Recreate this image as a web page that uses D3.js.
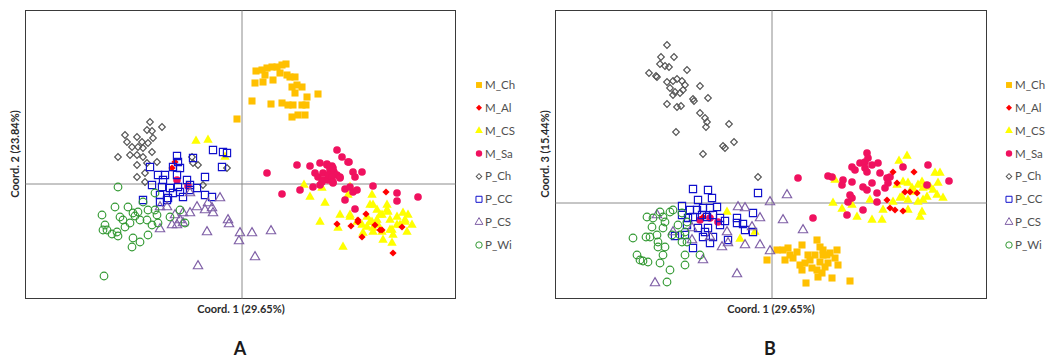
<!DOCTYPE html>
<html>
<head>
<meta charset="utf-8">
<script src="https://cdn.jsdelivr.net/npm/d3@7"></script>
<style>
  html, body { margin: 0; padding: 0; background: #fff; }
  svg { display: block; }
  text { font-family: Lato, "Open Sans", "Liberation Sans", sans-serif; }
</style>
</head>
<body>
<script>
// PCoA ordination of eight groups: Coord. 1 vs Coord. 2 (A) and Coord. 1 vs Coord. 3 (B)

const seriesNames = ["M_Ch", "M_Al", "M_CS", "M_Sa", "P_Ch", "P_CC", "P_CS", "P_Wi"];
const panelLetters = ["A", "B"];
const xAxisTitle = "Coord. 1 (29.65%)";
const yAxisTitles = ["Coord. 2 (23.84%)", "Coord. 3 (15.44%)"];

// ---------- Panel A : [Coord.1, Coord.2] ----------
const mChA = [[0.15,1.12],[0.21,1.13],[0.26,1.15],[0.31,1.16],[0.36,1.16],[0.41,1.18],[0.45,1.19],[0.24,1.08],
  [0.32,1.03],[0.39,1.10],[0.46,1.08],[0.49,1.06],[0.54,1.06],[0.14,1.00],[0.22,1.01],[0.51,0.96],[0.56,0.98],
  [0.61,0.96],[0.54,0.90],[0.66,0.86],[0.77,0.89],[0.11,0.82],[0.30,0.79],[0.41,0.80],[0.47,0.78],[0.52,0.78],
  [0.61,0.78],[0.65,0.78],[0.51,0.66],[0.57,0.68],[0.64,0.68],[-0.04,0.64]];
const mAlA = [[1.45,-0.09],[1.25,-0.31],[0.96,-0.41],[1.10,-0.43],[1.17,-0.39],[1.21,-0.54],[1.34,-0.42],
  [1.41,-0.47],[1.61,-0.44],[1.52,-0.70],[1.17,-0.37],[1.39,-0.47],[-0.66,0.21],[-0.69,0.15]];
const mCSA = [[0.63,-0.02],[0.69,-0.14],[0.81,-0.05],[0.84,-0.20],[0.79,-0.39],[0.99,-0.32],[0.97,-0.45],
  [1.02,-0.64],[1.09,-0.04],[1.07,-0.12],[1.09,-0.32],[1.16,-0.39],[1.21,-0.42],[1.26,-0.44],[1.29,-0.39],
  [1.31,-0.12],[1.32,-0.22],[1.36,-0.27],[1.39,-0.32],[1.37,-0.42],[1.41,-0.49],[1.46,-0.22],[1.47,-0.29],
  [1.49,-0.37],[1.51,-0.47],[1.52,-0.52],[1.42,-0.57],[1.51,-0.60],[1.56,-0.34],[1.59,-0.42],[1.62,-0.30],
  [1.64,-0.39],[1.66,-0.49],[1.71,-0.42],[1.32,-0.49],[1.22,-0.50],[1.26,-0.34],[1.31,-0.39],[1.36,-0.37],
  [1.41,-0.32],[1.46,-0.27],[1.56,-0.42],[1.64,-0.37],[1.67,-0.32],[1.49,-0.47],[1.32,-0.45],[1.29,-0.22],
  [1.09,-0.34],[-0.45,0.42],[-0.33,0.43],[-0.16,0.26]];
const mSaA = [[0.96,0.33],[1.01,0.26],[1.08,0.21],[0.26,0.10],[0.56,0.18],[0.69,0.17],[0.79,0.20],[0.86,0.19],
  [0.91,0.17],[0.89,0.13],[0.93,0.11],[0.96,0.08],[0.99,0.06],[0.74,0.10],[0.77,0.06],[0.82,0.03],[0.87,0.03],
  [0.92,0.00],[1.12,0.11],[1.21,0.11],[1.14,0.06],[0.72,-0.04],[0.59,-0.07],[0.41,-0.11],[1.04,-0.06],
  [1.12,-0.09],[1.16,-0.07],[1.32,-0.03],[1.04,-0.17],[1.14,-0.26],[1.56,-0.10],[1.56,-0.18],[1.77,-0.14],
  [1.09,-0.04],[0.79,-0.02],[0.86,0.18],[0.89,0.16],[0.92,0.15],[0.82,0.10],[0.87,0.08],[0.91,0.06],
  [0.99,0.05],[0.81,0.01],[0.92,0.01],[1.07,0.21],[-0.64,0.03],[-0.53,-0.03]];
const pChA = [[-0.91,0.61],[-0.79,0.56],[-0.94,0.53],[-0.89,0.52],[-1.16,0.48],[-1.04,0.46],[-1.14,0.41],
  [-0.99,0.41],[-0.93,0.40],[-0.88,0.45],[-1.09,0.36],[-1.03,0.36],[-0.98,0.35],[-0.89,0.31],[-1.23,0.26],
  [-1.11,0.28],[-1.04,0.28],[-0.98,0.26],[-1.04,0.18],[-0.94,0.20],[-0.84,0.21],[-0.49,0.26],[-0.48,0.20],
  [-0.43,0.18],[-1.04,0.06],[-0.96,0.10],[-0.14,0.15],[-0.96,0.01],[-0.38,-0.02]];
const pCCA = [[-0.64,0.27],[-0.63,0.21],[-0.68,0.16],[-0.91,0.16],[-0.61,0.15],[-0.83,0.08],[-0.76,0.08],
  [-0.78,0.03],[-0.64,0.08],[-0.89,-0.02],[-0.79,-0.04],[-0.71,-0.05],[-0.63,-0.04],[-0.54,0.03],[-0.51,-0.02],
  [-0.36,0.06],[-0.44,-0.05],[-0.28,0.33],[-0.18,0.31],[-0.14,0.30],[-0.19,0.16],[-0.48,0.25],[-0.36,-0.12],
  [-0.29,-0.14],[-0.98,-0.17],[-0.81,-0.12],[-0.73,-0.15],[-0.68,-0.10],[-0.61,-0.09],[-0.58,-0.14],
  [-0.51,-0.07],[-0.81,-0.19],[-0.74,-0.17]];
const pCSA = [[-0.21,-0.15],[-0.33,-0.20],[-0.29,-0.25],[-0.36,-0.27],[-0.28,-0.30],[-0.44,-0.24],[-0.51,-0.30],
  [-0.58,-0.30],[-0.66,-0.32],[-0.61,-0.37],[-0.69,-0.42],[-0.64,-0.42],[-0.58,-0.40],[-0.81,-0.46],
  [-0.34,-0.49],[-0.13,-0.37],[-0.12,-0.41],[-0.01,-0.50],[-0.02,-0.58],[0.11,-0.50],[0.14,-0.74],
  [-0.43,-0.83],[-0.74,-0.24],[-0.81,-0.24],[-0.51,-0.10],[0.30,-0.48]];
const pWiA = [[-1.23,-0.04],[-1.39,-0.32],[-1.26,-0.24],[-1.13,-0.24],[-1.21,-0.34],[-1.18,-0.37],[-1.08,-0.30],
  [-1.06,-0.33],[-1.11,-0.40],[-1.01,-0.37],[-1.16,-0.44],[-1.24,-0.49],[-1.29,-0.51],[-1.23,-0.53],
  [-1.36,-0.42],[-1.34,-0.47],[-1.38,-0.47],[-1.08,-0.55],[-1.09,-0.64],[-1.01,-0.59],[-0.93,-0.52],
  [-0.89,-0.42],[-0.94,-0.37],[-0.86,-0.27],[-0.84,-0.32],[-0.93,-0.27],[-0.98,-0.19],[-0.86,-0.10],
  [-0.71,-0.34],[-0.61,-0.27],[-0.56,-0.40],[-0.83,-0.40],[-1.03,-0.29],[-1.37,-0.93]];

// ---------- Panel B : [Coord.1, Coord.3] ----------
const mChB = [[-0.04,-0.58],[0.06,-0.48],[0.12,-0.48],[0.17,-0.46],[0.19,-0.53],[0.14,-0.58],[0.22,-0.56],
  [0.26,-0.50],[0.31,-0.43],[0.29,-0.63],[0.34,-0.61],[0.39,-0.58],[0.44,-0.53],[0.46,-0.38],[0.49,-0.45],
  [0.52,-0.48],[0.56,-0.53],[0.59,-0.51],[0.66,-0.48],[0.64,-0.56],[0.67,-0.63],[0.49,-0.60],[0.54,-0.65],
  [0.46,-0.68],[0.41,-0.66],[0.51,-0.71],[0.61,-0.76],[0.79,-0.79],[0.47,-0.75],[0.35,-0.81],[0.52,-0.53],
  [0.57,-0.61],[0.37,-0.53],[0.31,-0.68]];
const mAlB = [[1.22,0.30],[1.43,0.30],[1.26,0.19],[1.34,0.10],[1.39,0.10],[1.46,0.09],[1.16,0.02],[1.19,-0.06],
  [1.24,-0.08],[1.32,-0.09],[-0.68,-0.15]];
const mCSB = [[1.36,0.46],[1.28,0.41],[0.64,0.22],[0.62,-0.01],[0.71,-0.07],[0.81,-0.03],[0.86,-0.15],
  [0.99,0.02],[1.01,-0.18],[1.11,-0.18],[1.12,-0.08],[1.22,0.00],[1.26,0.17],[1.32,0.20],[1.37,0.19],
  [1.41,0.14],[1.44,0.10],[1.47,0.17],[1.51,0.20],[1.52,0.14],[1.59,0.15],[1.62,0.12],[1.64,0.29],[1.69,0.29],
  [1.67,0.19],[1.66,0.07],[1.56,0.05],[1.52,0.02],[1.47,0.00],[1.37,0.02],[1.29,0.04],[1.72,0.04],
  [1.51,-0.10],[1.49,-0.15],[1.37,-0.08],[1.31,0.05],[-0.44,-0.10],[-0.31,-0.37],[-0.16,-0.30]];
const mSaB = [[0.27,0.24],[0.57,0.26],[0.61,0.25],[0.72,0.22],[0.71,0.17],[0.81,0.20],[0.81,0.35],[0.84,0.32],
  [0.89,0.39],[0.94,0.40],[0.96,0.49],[0.97,0.44],[1.01,0.37],[1.07,0.39],[0.96,0.30],[1.09,0.29],[0.92,0.15],
  [0.96,0.12],[1.01,0.19],[1.06,0.09],[1.16,0.24],[1.17,0.19],[1.14,0.14],[1.19,0.25],[0.79,0.07],[0.81,0.04],
  [0.77,0.00],[1.06,0.00],[0.92,-0.08],[0.76,-0.13],[0.42,-0.16],[1.32,0.35],[1.57,0.37],[1.56,0.17],
  [1.78,0.21],[0.94,0.34],[-0.71,-0.18],[-0.61,-0.16],[-0.53,-0.20]];
const pChB = [[-1.04,1.57],[-1.10,1.45],[-0.97,1.45],[-1.11,1.38],[-1.06,1.36],[-1.02,1.35],[-1.22,1.29],
  [-1.15,1.26],[-1.14,1.25],[-0.84,1.32],[-1.04,1.20],[-0.98,1.21],[-0.94,1.23],[-0.89,1.21],[-0.86,1.17],
  [-1.01,1.14],[-0.96,1.10],[-0.91,1.09],[-0.88,1.12],[-0.98,1.07],[-0.71,1.16],[-0.78,1.03],[-0.77,1.01],
  [-0.63,1.04],[-1.04,0.98],[-0.94,0.95],[-0.90,0.96],[-0.71,0.89],[-0.66,0.84],[-0.64,0.80],[-0.65,0.75],
  [-0.95,0.70],[-0.42,0.78],[-0.48,0.56],[-0.46,0.54],[-0.37,0.60],[-0.68,0.48],[-0.13,0.25]];
const pCCB = [[-0.78,0.13],[-0.63,0.12],[-0.59,0.04],[-0.73,0.02],[-0.13,0.09],[-0.89,-0.04],[-0.81,-0.08],
  [-0.74,-0.08],[-0.68,-0.06],[-0.61,-0.06],[-0.54,-0.05],[-0.89,-0.13],[-0.83,-0.16],[-0.78,-0.15],
  [-0.69,-0.13],[-0.64,-0.15],[-0.58,-0.13],[-0.51,-0.16],[-0.46,-0.19],[-0.84,-0.23],[-0.73,-0.26],
  [-0.63,-0.26],[-0.51,-0.23],[-0.34,-0.16],[-0.34,-0.21],[-0.28,-0.22],[-0.18,-0.11],[-0.96,-0.34],
  [-0.78,-0.46],[-0.61,-0.41],[-0.43,-0.38],[-0.18,-0.30],[-0.68,-0.35],[-0.58,-0.35],[-0.86,-0.33],
  [-0.26,-0.28],[-0.66,-0.30]];
const pCSB = [[-1.14,-0.13],[-0.98,-0.30],[-0.79,-0.38],[-0.68,-0.58],[-0.61,-0.35],[-0.49,-0.45],[-0.43,-0.41],
  [-0.33,-0.05],[-0.26,-0.06],[-0.26,-0.43],[-0.11,-0.16],[-0.11,-0.43],[-0.19,-0.25],[-0.01,0.00],
  [0.12,-0.18],[-0.01,-0.49],[0.16,0.07],[-0.34,-0.72],[-1.16,-0.81],[-0.79,-0.26],[-0.44,-0.30],[0.32,-0.28]];
const pWiB = [[-1.38,-0.36],[-1.34,-0.53],[-1.31,-0.58],[-1.28,-0.59],[-1.23,-0.60],[-1.25,-0.35],[-1.21,-0.35],
  [-1.19,-0.25],[-1.24,-0.15],[-1.18,-0.16],[-1.11,-0.10],[-1.08,-0.15],[-1.06,-0.20],[-1.01,-0.10],
  [-1.08,-0.26],[-1.14,-0.33],[-1.13,-0.40],[-1.13,-0.45],[-1.06,-0.45],[-1.08,-0.53],[-0.99,-0.33],
  [-0.93,-0.23],[-0.91,-0.33],[-0.89,-0.40],[-0.86,-0.30],[-0.84,-0.40],[-0.86,-0.53],[-0.89,-0.11],
  [-0.84,-0.20],[-0.71,-0.53],[-1.11,-0.61],[-1.01,-0.68],[-0.86,-0.63],[-1.04,-0.80],[-0.98,-0.08]];

const seriesA = [mChA, mAlA, mCSA, mSaA, pChA, pCCA, pCSA, pWiA];
const seriesB = [mChB, mAlB, mCSB, mSaB, pChB, pCCB, pCSB, pWiB];

// Marker look for each group
const markerStyle = {
  M_Ch: { type: d3.symbolSquare,   size: 50, rotate: 0,  fill: "#FFC000", stroke: "none" },
  M_Al: { type: d3.symbolSquare,   size: 26, rotate: 45, fill: "#FF0000", stroke: "none" },
  M_CS: { type: d3.symbolTriangle, size: 38, rotate: 0,  fill: "#FFFF00", stroke: "none" },
  M_Sa: { type: d3.symbolCircle,   size: 46, rotate: 0,  fill: "#F0115F", stroke: "none" },
  P_Ch: { type: d3.symbolSquare,   size: 22, rotate: 45, fill: "none",    stroke: "#555555" },
  P_CC: { type: d3.symbolSquare,   size: 52, rotate: 0,  fill: "none",    stroke: "#1010CC" },
  P_CS: { type: d3.symbolTriangle, size: 38, rotate: 0,  fill: "none",    stroke: "#7F5FA6" },
  P_Wi: { type: d3.symbolCircle,   size: 46, rotate: 0,  fill: "none",    stroke: "#339933" }
};
// drawing order (later on top)
const drawOrder = ["M_Ch", "M_CS", "M_Sa", "M_Al", "P_Ch", "P_CC", "P_CS", "P_Wi"];

const svg = d3.select("body").append("svg").attr("width", 1047).attr("height", 361);

function drawPanel(opt) {
  const { left, right, top, bottom, xDomain, yDomain, series, yTitle, letter, legendX } = opt;
  const x = d3.scaleLinear().domain(xDomain).range([left, right]);
  const y = d3.scaleLinear().domain(yDomain).range([bottom, top]);
  const g = svg.append("g");

  // plot frame
  g.append("rect")
    .attr("x", left + 0.5).attr("y", top + 0.5)
    .attr("width", right - left).attr("height", bottom - top)
    .attr("fill", "#fff").attr("stroke", "#3a3a3a").attr("stroke-width", 1);

  // zero axes crossing the plot area
  const xAxis = d3.axisBottom(x).tickValues([]).tickSizeOuter(0);
  const yAxis = d3.axisLeft(y).tickValues([]).tickSizeOuter(0);
  g.append("g").attr("transform", `translate(0,${Math.round(y(0)) + 0.5})`).call(xAxis)
    .select(".domain").attr("stroke", "#8c8c8c");
  g.append("g").attr("transform", `translate(${Math.round(x(0)) + 0.5},0)`).call(yAxis)
    .select(".domain").attr("stroke", "#8c8c8c");

  // points
  drawOrder.forEach(name => {
    const idx = seriesNames.indexOf(name);
    const st = markerStyle[name];
    const sym = d3.symbol().type(st.type).size(st.size);
    g.append("g").selectAll("path").data(series[idx]).join("path")
      .attr("d", sym)
      .attr("transform", d => `translate(${x(d[0])},${y(d[1])}) rotate(${st.rotate})`)
      .attr("fill", st.fill)
      .attr("stroke", st.stroke)
      .attr("stroke-width", 1.15);
  });

  // axis titles
  g.append("text")
    .attr("x", x(0)).attr("y", bottom + 15)
    .attr("text-anchor", "middle")
    .attr("font-size", 11).attr("font-weight", "bold").attr("fill", "#2b2b2b")
    .text(xAxisTitle);
  g.append("text")
    .attr("transform", `translate(${left - 6},${(top + bottom) / 2}) rotate(-90)`)
    .attr("text-anchor", "middle")
    .attr("font-size", 11).attr("font-weight", "bold").attr("fill", "#2b2b2b")
    .text(yTitle);

  // panel letter
  g.append("text")
    .attr("x", x(0) - 1).attr("y", 355)
    .attr("text-anchor", "middle")
    .attr("font-size", 18).attr("font-weight", "bold").attr("fill", "#1a1a1a")
    .text(letter);

  // legend
  const leg = d3.scalePoint().domain(seriesNames).range([85, 245]);
  seriesNames.forEach(name => {
    const st = markerStyle[name];
    const row = g.append("g").attr("transform", `translate(${legendX},${leg(name)})`);
    row.append("path")
      .attr("d", d3.symbol().type(st.type).size(st.size * 0.7))
      .attr("transform", `rotate(${st.rotate})`)
      .attr("fill", st.fill).attr("stroke", st.stroke);
    row.append("text")
      .attr("x", 6).attr("y", 4)
      .attr("font-size", 11.5).attr("fill", "#505050")
      .text(name);
  });
}

drawPanel({
  left: 25, right: 455, top: 10, bottom: 298,
  xDomain: [-2.16, 2.14], yDomain: [-1.15, 1.73],
  series: seriesA, yTitle: yAxisTitles[0], letter: panelLetters[0], legendX: 479
});
drawPanel({
  left: 555, right: 986, top: 10, bottom: 298,
  xDomain: [-2.16, 2.15], yDomain: [-0.96, 1.92],
  series: seriesB, yTitle: yAxisTitles[1], letter: panelLetters[1], legendX: 1009
});
</script>
</body>
</html>
